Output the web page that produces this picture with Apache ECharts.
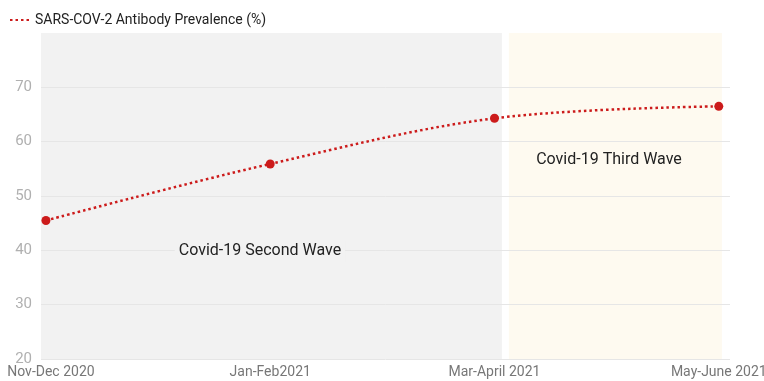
<!DOCTYPE html>
<html>
<head>
<meta charset="utf-8">
<script src="https://cdn.jsdelivr.net/npm/echarts@6/dist/echarts.min.js"></script>
<style>
  html, body { margin: 0; padding: 0; background: #fff; }
  #chart { width: 764px; height: 381px; }
</style>
</head>
<body>
<div id="chart"></div>
<script>
// 数据
const periods = ['Nov-Dec 2020', 'Jan-Feb2021', 'Mar-April 2021', 'May-June 2021'];
const prevalence = [45.5, 55.9, 64.3, 66.5];
const waveNames = ['Covid-19 Second Wave', 'Covid-19 Third Wave'];
const waveFrom = [-0.022, 2.064];
const waveTo = [2.033, 3.014];

const waveColors = ['#f2f2f2', '#fefaf0'];
const labelPos = [['47.5%', '67%'], ['47%', '39%']];

const myChart = echarts.init(document.getElementById('chart'));

// 背景区域 (withLabel: 文字层放在网格线上面)
const makeAreas = (withLabel) => waveNames.map((name, i) => [
    {
        name: name,
        xAxis: waveFrom[i],
        yAxis: 20,
        itemStyle: { color: withLabel ? 'transparent' : waveColors[i] },
        label: {
            show: withLabel,
            position: labelPos[i],
            backgroundColor: waveColors[i],
            padding: [2, 4]
        }
    },
    { xAxis: waveTo[i], yAxis: 80 }
]);

const option = {
    backgroundColor: '#fff',
    textStyle: { fontFamily: 'Roboto' },
    legend: {
        left: 4,
        top: 8,
        itemWidth: 20,
        itemHeight: 10,
        itemGap: 6,
        textStyle: { color: '#222', fontSize: 14 },
        itemStyle: { opacity: 0 },
        data: ['SARS-COV-2 Antibody Prevalence (%)']
    },
    grid: { left: 41, right: 34, top: 33, bottom: 22, containLabel: false, outerBoundsMode: 'none' },
    xAxis: {
        type: 'value',
        min: -0.022,
        max: 3.05,
        axisLine: { show: false },
        axisTick: { show: false },
        splitLine: { show: false },
        axisLabel: {
            customValues: [0, 1, 2, 3],
            color: '#777',
            fontSize: 14,
            margin: 6,
            formatter: v => (v === 0 ? '{first|' + periods[0] + '}' : periods[Math.round(v)]),
            rich: {
                first: { color: '#777', fontSize: 14, padding: [0, 0, 0, 10] }
            }
        }
    },
    yAxis: {
        type: 'value',
        min: 20,
        max: 80,
        interval: 10,
        z: 2,
        axisLine: { show: false },
        axisTick: { show: false },
        axisLabel: { color: '#b0b0b0', fontSize: 15, margin: 9, showMaxLabel: false },
        splitLine: { showMaxLine: false, lineStyle: { color: '#e6e6e6', width: 1 } }
    },
    series: [
        {
            type: 'line',
            data: [],
            silent: true,
            markArea: { silent: true, z: 1, data: makeAreas(false) }
        },
        {
            type: 'line',
            data: [],
            silent: true,
            markArea: {
                silent: true,
                z: 4,
                data: makeAreas(true),
                label: {
                    color: '#222',
                    fontSize: 16,
                    align: 'center',
                    verticalAlign: 'middle'
                }
            }
        },
        {
            name: 'SARS-COV-2 Antibody Prevalence (%)',
            type: 'line',
            z: 5,
            smooth: 0.35,
            symbol: 'circle',
            symbolSize: 9,
            data: prevalence.map((v, i) => [i, v]),
            itemStyle: { color: '#cc1b1b' },
            lineStyle: { color: '#cc1b1b', width: 2.5, type: [2.5, 3] }
        }
    ]
};

myChart.setOption(option);
</script>
</body>
</html>
